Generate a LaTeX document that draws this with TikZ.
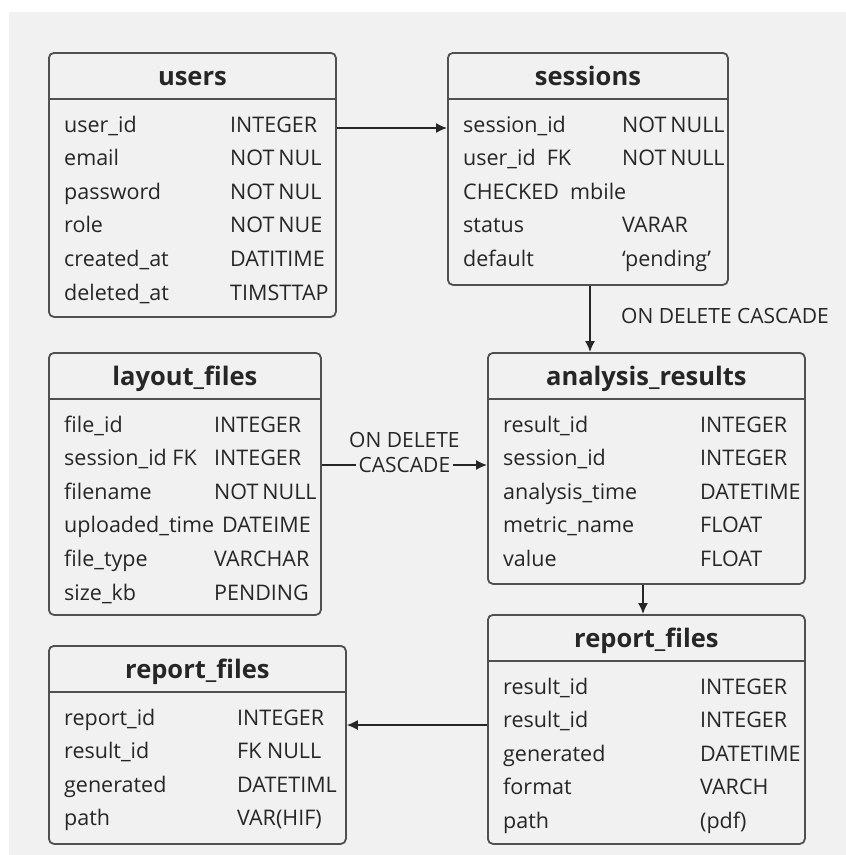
\documentclass[tikz,border=0pt]{standalone}
\usepackage{fontspec}
\setmainfont{Open Sans}
\usetikzlibrary{arrows.meta}
\definecolor{bg}{HTML}{F1F1F1}
\definecolor{ink}{HTML}{262626}
\definecolor{edge}{HTML}{505050}

% One ER table: name, x, y, width, height, title, type-column offset, rows (field/type)
\newcommand\ertable[8]{%
  \node[tbl, minimum width=#4pt, minimum height=#5pt] (#1) at (#2,#3) {};
  \draw[sep] ([yshift=-47pt]#1.north west) -- ([yshift=-47pt]#1.north east);
  \node[ttl] at ([yshift=-33pt]#1.north) {#6};
  \foreach \fa/\fb [count=\i] in {#8} {
    \pgfmathsetmacro\dy{-80-33.6*(\i-1)}
    \node[fld] at ([xshift=16pt, yshift=\dy pt]#1.north west) {\fa};
    \node[fld] at ([xshift=#7pt, yshift=\dy pt]#1.north west) {\fb};
  }%
}
% narrower word gap for two-word column types
\newcommand\tg{\kern4pt}

\begin{document}
\begin{tikzpicture}[x=1pt,y=-1pt,
  tbl/.style={draw=edge, line width=1.8pt, rounded corners=5pt, anchor=north west,
              inner sep=0pt, fill=bg},
  sep/.style={draw=edge, line width=1.8pt},
  ttl/.style={anchor=base, font=\fontsize{25.5}{28}\selectfont\bfseries, text=ink, inner sep=0pt},
  fld/.style={anchor=base west, font=\fontsize{21.5}{24}\selectfont, text=ink, inner sep=0pt},
  arr/.style={draw=ink, line width=1.5pt, -{Latex[length=11pt,width=10pt]}},
  lbl/.style={font=\fontsize{21}{24}\selectfont, text=ink, inner sep=1pt}]

% page and canvas
\fill[white] (0,0) rectangle (846,855);
\fill[bg] (9,12) rectangle (846,855);
\useasboundingbox (0,0) rectangle (846,855);

\ertable{users}{48}{52}{287}{264}{users}{182}{%
  user\_id/INTEGER, email/NOT\tg NUL, password/NOT\tg NUL, role/NOT\tg NUE,
  created\_at/DATITIME, deleted\_at/TIMSTTAP}

\ertable{sessions}{447}{52}{280}{232}{sessions}{175}{%
  session\_id/NOT\tg NULL, user\_id~~FK/NOT\tg NULL, CHECKED~~mbile/{},
  status/VARAR, default/`pending'}

\ertable{layout}{48}{352}{272}{262}{layout\_files}{166}{%
  file\_id/INTEGER, session\_id FK/INTEGER, filename/NOT\tg NULL,
  uploaded\_time/\kern8pt DATEIME, file\_type/VARCHAR, size\_kb/PENDING}

\ertable{analysis}{487}{352}{317}{231}{analysis\_results}{213}{%
  result\_id/INTEGER, session\_id/INTEGER, analysis\_time/DATETIME,
  metric\_name/FLOAT, value/FLOAT}

\ertable{reportB}{487}{614}{317}{229}{report\_files}{213}{%
  result\_id/INTEGER, result\_id/INTEGER, generated/DATETIME,
  format/VARCH, path/(pdf)}

\ertable{reportA}{48}{645}{297}{198}{report\_files}{189}{%
  report\_id/INTEGER, result\_id/FK NULL, generated/DATETIML,
  path/VAR(HIF)}

% connector lanes
\coordinate (h1) at (0,128);
\coordinate (v1) at (590,0);
\coordinate (h2) at (0,465);
\coordinate (v2) at (643,0);
\coordinate (h3) at (0,725);

\draw[arr] (users.east |- h1) -- (sessions.west |- h1);
\draw[arr] (sessions.south -| v1) -- (analysis.north -| v1);
\node[lbl, anchor=base west] (cas1) at (620,323) {ON DELETE CASCADE};

\draw[arr] (layout.east |- h2) -- (analysis.west |- h2)
  node[midway, lbl, fill=bg, inner xsep=3pt] (cas2) {CASCADE};
\node[lbl, anchor=base] (del2) at ([yshift=25pt]cas2.base) {ON DELETE};

\draw[arr] (analysis.south -| v2) -- (reportB.north -| v2);
\draw[arr] (reportB.west |- h3) -- (reportA.east |- h3);
\end{tikzpicture}
\end{document}
